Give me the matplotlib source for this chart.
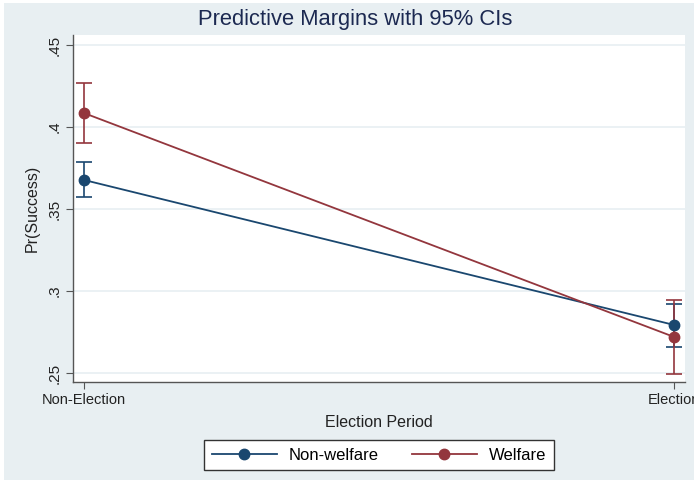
import matplotlib
matplotlib.use('Agg')
import matplotlib.pyplot as plt
from matplotlib.patches import Rectangle

plt.rcParams['font.family'] = ['Liberation Sans', 'DejaVu Sans']

# predictive margins with 95% CIs
periods = ['Non-Election', 'Election']
nonwelfare = [0.3677, 0.2793]
nonwelfare_lo = [0.3573, 0.2659]
nonwelfare_hi = [0.3787, 0.2921]
welfare = [0.4085, 0.2720]
welfare_lo = [0.3902, 0.2494]
welfare_hi = [0.4268, 0.2945]
yticks = [0.25, 0.30, 0.35, 0.40, 0.45]
yticklabels = ['.25', '.3', '.35', '.4', '.45']

bg = '#e8eff2'
blue = '#1a476f'
red = '#93363d'

fig = plt.figure(figsize=(6.94, 4.83), dpi=100, facecolor='white')
W, H = 694.0, 483.0
fig.patches.append(Rectangle((4 / W, 3 / H), 1, 477 / H, transform=fig.transFigure,
                             facecolor=bg, edgecolor='none', zorder=-10))

ax = fig.add_axes([73 / W, 1 - 382 / H, (685 - 73) / W, (382 - 35) / H])
ax.set_facecolor('white')

x = list(range(len(periods)))
series = [(nonwelfare, nonwelfare_lo, nonwelfare_hi, blue, 'Non-welfare'),
          (welfare, welfare_lo, welfare_hi, red, 'Welfare')]
for vals, lo, hi, col, name in series:
    err = [[v - l for v, l in zip(vals, lo)], [h - v for v, h in zip(vals, hi)]]
    ax.errorbar(x, vals, yerr=err, fmt='none', ecolor=col, elinewidth=1.2,
                capsize=6, capthick=1.2, zorder=3)
    ax.plot(x, vals, color=col, lw=1.3, marker='o', ms=7.5, label=name, zorder=4)

ax.set_xlim(-11 / 590, 1 + 11 / 590)
ax.set_ylim(0.45 - 337 / 1640, 0.45 + 10 / 1640)
ax.set_xticks(x)
ax.set_xticklabels(periods, fontsize=10.5)
ax.set_yticks(yticks)
ax.set_yticklabels(yticklabels, fontsize=11, rotation=90, va='center')
ax.yaxis.grid(True, color=bg, lw=1.2)
ax.set_axisbelow(True)

for s in ['top', 'right']:
    ax.spines[s].set_visible(False)
for s in ['left', 'bottom']:
    ax.spines[s].set_color('#555555')
    ax.spines[s].set_linewidth(1)
ax.tick_params(length=5, color='#555555', pad=3, labelcolor='#222222')

ax.set_ylabel('Pr(Success)', fontsize=11.5, color='#222222', labelpad=6)
ax.set_xlabel('Election Period', fontsize=11.5, color='#222222', labelpad=6)
fig.text(355 / W, 1 - 19 / H, 'Predictive Margins with 95% CIs', ha='center',
         va='center', fontsize=15.8, color='#1c2951')

leg = fig.legend(loc='center', bbox_to_anchor=(379 / W, 1 - 455 / H), ncol=2,
                 fontsize=12, frameon=True, fancybox=False, framealpha=1,
                 handlelength=3.9, handletextpad=0.7, columnspacing=2.0,
                 borderpad=0.45)
leg.get_frame().set_edgecolor('#333333')
leg.get_frame().set_linewidth(1)

fig.savefig('out.png', dpi=100, facecolor=fig.get_facecolor())
